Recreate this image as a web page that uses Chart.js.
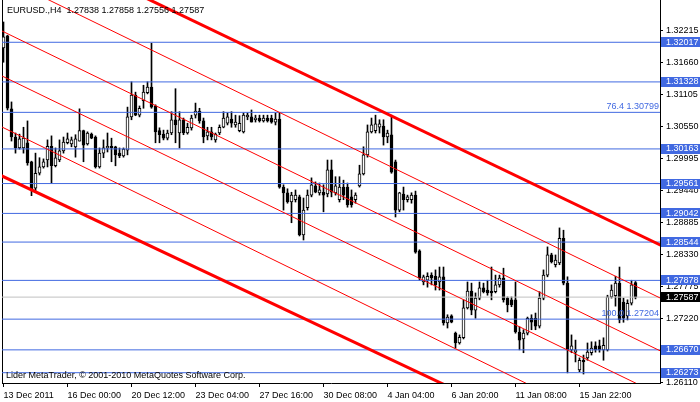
<!DOCTYPE html>
<html><head><meta charset="utf-8">
<script src="https://cdn.jsdelivr.net/npm/chart.js@4.4.1/dist/chart.umd.min.js"></script>
<style>html,body{margin:0;padding:0;background:#fff;overflow:hidden}canvas{display:block}</style>
</head><body>
<canvas id="c" width="700" height="402"></canvas>
<script>
const symbolName = 'EURUSD.,H4';
const opens = [1.3192,1.3213,1.3086,1.3037,1.3018,1.3018,1.3027,1.2994,1.2948,1.2974,
 1.2985,1.2997,1.3021,1.2987,1.2997,1.3013,1.3027,1.3025,1.3020,1.3030,
 1.3048,1.3025,1.3042,1.3037,1.2985,1.3009,1.3018,1.3021,1.3020,1.3009,
 1.3004,1.3014,1.3072,1.3110,1.3075,1.3100,1.3114,1.3124,1.3091,1.3048,
 1.3042,1.3035,1.3044,1.3067,1.3044,1.3067,1.3044,1.3053,1.3075,1.3082,
 1.3065,1.3039,1.3046,1.3032,1.3044,1.3054,1.3061,1.3068,1.3058,1.3048,
 1.3046,1.3072,1.3072,1.3067,1.3070,1.3065,1.3070,1.3070,1.3063,1.3068,
 1.2950,1.2940,1.2924,1.2928,1.2933,1.2867,1.2914,1.2936,1.2952,1.2940,
 1.2941,1.2938,1.2980,1.2940,1.2928,1.2950,1.2950,1.2933,1.2928,1.2952,
 1.2973,1.3006,1.3046,1.3048,1.3054,1.3056,1.3037,1.3041,1.2994,1.2910,
 1.2938,1.2928,1.2928,1.2936,1.2839,1.2785,1.2788,1.2797,1.2795,1.2785,
 1.2794,1.2714,1.2726,1.2696,1.2679,1.2688,1.2740,1.2769,1.2736,1.2757,
 1.2775,1.2771,1.2769,1.2768,1.2780,1.2792,1.2757,1.2754,1.2754,1.2698,
 1.2686,1.2696,1.2722,1.2722,1.2708,1.2757,1.2797,1.2832,1.2815,1.2818,
 1.2861,1.2783,1.2667,1.2663,1.2632,1.2649,1.2653,1.2662,1.2674,1.2674,
 1.2667,1.2667,1.2759,1.2761,1.2783,1.2750,1.2726,1.2748,1.27838];
const highs = [1.3237,1.3214,1.3098,1.3044,1.3042,1.3054,1.3065,1.2995,1.3009,1.3001,
 1.2999,1.3032,1.3039,1.3018,1.3032,1.3037,1.3044,1.3037,1.3041,1.3086,
 1.3049,1.3046,1.3044,1.3039,1.3018,1.3032,1.3044,1.3035,1.3021,1.3018,
 1.3018,1.3089,1.3133,1.3115,1.3091,1.3127,1.3133,1.3200,1.3093,1.3053,
 1.3049,1.3049,1.3081,1.3121,1.3081,1.3070,1.3061,1.3075,1.3096,1.3087,
 1.3070,1.3054,1.3054,1.3044,1.3058,1.3081,1.3079,1.3081,1.3075,1.3074,
 1.3079,1.3079,1.3084,1.3075,1.3075,1.3075,1.3075,1.3075,1.3079,1.3079,
 1.2954,1.2947,1.2941,1.2945,1.2936,1.2931,1.2945,1.2966,1.2959,1.2957,
 1.2954,1.2997,1.2997,1.2968,1.2968,1.2962,1.2957,1.2945,1.2940,1.2988,
 1.3020,1.3058,1.3070,1.3075,1.3067,1.3067,1.3049,1.3075,1.2997,1.2941,
 1.2950,1.2936,1.2940,1.2943,1.2841,1.2797,1.2801,1.2801,1.2806,1.2811,
 1.2811,1.2728,1.2728,1.2698,1.2693,1.2754,1.2785,1.2783,1.2766,1.2785,
 1.2783,1.2788,1.2811,1.2797,1.2797,1.2809,1.2759,1.2759,1.2785,1.2707,
 1.2702,1.2724,1.2728,1.2731,1.2768,1.2806,1.2846,1.2835,1.2832,1.2879,
 1.2875,1.2794,1.2693,1.2684,1.2653,1.2658,1.2679,1.2681,1.2681,1.2684,
 1.2688,1.2762,1.2780,1.2795,1.2811,1.2757,1.2754,1.2788,1.27858];
const lows = [1.3167,1.3084,1.3030,1.3009,1.3016,1.3009,1.2988,1.2935,1.2941,1.2971,
 1.2983,1.2985,1.2957,1.2985,1.2994,1.3009,1.3025,1.3020,1.3002,1.3030,
 1.2994,1.3023,1.3034,1.2983,1.2983,1.3001,1.3011,1.2994,1.2987,1.3001,
 1.3002,1.3006,1.3067,1.3074,1.3072,1.3087,1.3112,1.3087,1.3027,1.3027,
 1.3032,1.3032,1.3041,1.3027,1.3018,1.3041,1.3042,1.3049,1.3070,1.3061,
 1.3027,1.3032,1.3032,1.3028,1.3041,1.3053,1.3058,1.3054,1.3054,1.3046,
 1.3044,1.3067,1.3063,1.3063,1.3063,1.3063,1.3063,1.3061,1.3058,1.2948,
 1.2910,1.2922,1.2888,1.2924,1.2865,1.2858,1.2910,1.2933,1.2940,1.2936,
 1.2907,1.2933,1.2933,1.2936,1.2924,1.2928,1.2915,1.2915,1.2922,1.2950,
 1.2971,1.3002,1.3044,1.3044,1.3044,1.3023,1.3027,1.2974,1.2898,1.2907,
 1.2910,1.2924,1.2922,1.2835,1.2788,1.2780,1.2776,1.2780,1.2771,1.2771,
 1.2710,1.2705,1.2714,1.2670,1.2677,1.2686,1.2738,1.2728,1.2722,1.2754,
 1.2766,1.2762,1.2754,1.2766,1.2776,1.2750,1.2733,1.2742,1.2696,1.2667,
 1.2662,1.2693,1.2702,1.2702,1.2705,1.2754,1.2794,1.2818,1.2811,1.2815,
 1.2780,1.2627,1.2662,1.2646,1.2629,1.2625,1.2649,1.2658,1.2663,1.2663,
 1.2649,1.2665,1.2757,1.2743,1.2714,1.2715,1.2719,1.2745,1.27556];
const closes = [1.3211,1.3087,1.3037,1.3018,1.3034,1.3035,1.2992,1.2945,1.2974,1.2985,
 1.2994,1.3021,1.2987,1.3001,1.3013,1.3028,1.3034,1.3032,1.3034,1.3048,
 1.3023,1.3044,1.3035,1.2985,1.3009,1.3018,1.3021,1.3018,1.3006,1.3004,
 1.3016,1.3072,1.3110,1.3075,1.3087,1.3115,1.3124,1.3089,1.3046,1.3041,
 1.3035,1.3044,1.3067,1.3058,1.3067,1.3044,1.3054,1.3070,1.3082,1.3065,
 1.3037,1.3046,1.3037,1.3042,1.3054,1.3070,1.3072,1.3061,1.3063,1.3061,
 1.3075,1.3075,1.3063,1.3070,1.3065,1.3070,1.3065,1.3063,1.3068,1.2950,
 1.2940,1.2924,1.2936,1.2936,1.2867,1.2910,1.2936,1.2954,1.2941,1.2945,
 1.2936,1.2980,1.2941,1.2952,1.2950,1.2936,1.2919,1.2919,1.2936,1.2973,
 1.3006,1.3046,1.3058,1.3060,1.3060,1.3037,1.3044,1.2976,1.2910,1.2940,
 1.2928,1.2933,1.2936,1.2837,1.2792,1.2794,1.2795,1.2792,1.2780,1.2794,
 1.2714,1.2724,1.2715,1.2679,1.2689,1.2740,1.2769,1.2736,1.2757,1.2775,
 1.2768,1.2766,1.2766,1.2780,1.2792,1.2754,1.2745,1.2745,1.2698,1.2684,
 1.2696,1.2722,1.2715,1.2708,1.2757,1.2797,1.2832,1.2820,1.2823,1.2861,
 1.2783,1.2667,1.2674,1.2667,1.2649,1.2646,1.2663,1.2670,1.2667,1.2667,
 1.2675,1.2759,1.2771,1.2783,1.2719,1.2722,1.2748,1.2780,1.27587];

const timeTickIdx = [0,16,32,48,64,80,96,112,128,144];
const timeTickLabels = ['13 Dec 2011','16 Dec 00:00','20 Dec 12:00','23 Dec 04:00','27 Dec 16:00',
  '30 Dec 08:00','4 Jan 04:00','6 Jan 20:00','11 Jan 08:00','15 Jan 22:00'];
const priceTicks = [1.32215,1.31660,1.31105,1.30550,1.29995,1.29440,1.28885,1.28330,1.27775,1.27220,1.26665,1.26110];
const boxedLevels = [1.32017,1.31328,1.30163,1.29561,1.29042,1.28544,1.27878,1.26670,1.26273];
const fiboPrices = [1.30799,1.27204];
const fiboNames = ['76.4','100.0'];
const channelStart = [1.34007,1.33171,1.32234,1.31452,1.30565,1.29713];
const channelEnd   = [1.28434,1.27509,1.26591,1.25824,1.24887,1.24235];
const channelFromIdx = -1, channelToIdx = 166;
const lastPrice = closes[closes.length - 1];

const X_MIN = -0.375, X_MAX = 164.125;
const Y_MIN = 1.26094, Y_MAX = 1.32752;
const BLUE = '#4169e1';
const FONT = '"Liberation Sans", Arial, sans-serif';

Chart.defaults.font.family = FONT;
Chart.defaults.font.size = 9;
Chart.defaults.color = '#000';

const idx = opens.map((_, i) => i);
const hline = (p) => [{x: X_MIN, y: p}, {x: X_MAX, y: p}];

const datasets = [];
datasets.push({
  type: 'bar', label: 'wicks', yAxisID: 'y', xAxisID: 'x',
  data: idx.map(i => ({x: i, y: [lows[i], highs[i]]})),
  backgroundColor: '#000', borderWidth: 0, barThickness: 1, grouped: false, order: 30
});
datasets.push({
  type: 'bar', label: 'bodies', yAxisID: 'y', xAxisID: 'x',
  data: idx.map(i => ({x: i, y: [Math.min(opens[i], closes[i]), Math.max(opens[i], closes[i])]})),
  backgroundColor: idx.map(i => closes[i] >= opens[i] ? '#ffffff' : '#000000'),
  borderColor: '#000', borderWidth: 1, borderSkipped: false, barThickness: 3,
  minBarLength: 1, grouped: false, order: 20
});
datasets.push({
  type: 'line', label: 'bid', yAxisID: 'y', xAxisID: 'x', data: hline(lastPrice),
  borderColor: '#c0c0c0', borderWidth: 1, pointRadius: 0, clip: 0, order: 15
});
boxedLevels.concat(fiboPrices).forEach(p => datasets.push({
  type: 'line', label: 'lvl', yAxisID: 'y', xAxisID: 'x', data: hline(p),
  borderColor: BLUE, borderWidth: 1, pointRadius: 0, clip: 0, order: 10
}));
channelStart.forEach((s, k) => datasets.push({
  type: 'line', label: 'ch', yAxisID: 'y', xAxisID: 'x',
  data: [{x: channelFromIdx, y: s}, {x: channelToIdx, y: channelEnd[k]}],
  borderColor: '#ff0000', borderWidth: (k === 0 || k === channelStart.length - 1) ? 3 : 1,
  pointRadius: 0, clip: 0, order: 5
}));

const overlay = {
  id: 'overlay',
  afterDraw(chart) {
    const {ctx, chartArea: a, scales: {y}} = chart;
    const W = chart.width;
    ctx.save();
    ctx.font = '9px ' + FONT;
    ctx.textBaseline = 'middle';
    ctx.textAlign = 'left';
    const box = (p, bg) => {
      const py = y.getPixelForValue(p);
      const y0 = Math.round(py) - 5;
      ctx.fillStyle = bg;
      ctx.fillRect(a.right + 1, y0, W - a.right - 1, 10);
      ctx.fillStyle = '#fff';
      ctx.fillText(p.toFixed(5), a.right + 6, py);
    };
    boxedLevels.forEach(p => box(p, BLUE));
    box(lastPrice, '#000');
    ctx.textAlign = 'right';
    ctx.fillStyle = BLUE;
    fiboPrices.forEach((p, k) => {
      ctx.fillText(fiboNames[k] + ' ' + p.toFixed(5), a.right - 1, y.getPixelForValue(p) - 6);
    });
    ctx.textAlign = 'left';
    ctx.fillStyle = '#000';
    const n = opens.length - 1;
    ctx.fillText(symbolName + '  ' + [opens[n], highs[n], lows[n], closes[n]].map(v => v.toFixed(5)).join(' '), 7, 10.5);
    ctx.fillText('Lider MetaTrader, \u00a9 2001-2010 MetaQuotes Software Corp.', 6, a.bottom - 7);
    ctx.restore();
  }
};

const noPad = s => { s.paddingTop = 0; s.paddingBottom = 0; s.paddingLeft = 0; s.paddingRight = 0; };

new Chart(document.getElementById('c'), {
  type: 'bar',
  data: { datasets },
  options: {
    responsive: false, animation: false, devicePixelRatio: 1, events: [],
    layout: { padding: 0, autoPadding: false },
    plugins: { legend: { display: false }, tooltip: { enabled: false }, title: { display: false } },
    scales: {
      y: {
        type: 'linear', position: 'right', min: Y_MIN, max: Y_MAX, bounds: 'data', beginAtZero: false,
        afterBuildTicks: s => { s.ticks = priceTicks.map(v => ({value: v})); },
        afterFit: s => { s.width = 40; noPad(s); },
        ticks: { autoSkip: false, padding: 3, color: '#000', callback: v => Number(v).toFixed(5) },
        grid: { drawOnChartArea: false, drawTicks: true, tickLength: 3, color: '#000' },
        border: { display: true, color: '#000', width: 1 }
      },
      yl: {
        type: 'linear', position: 'left', min: Y_MIN, max: Y_MAX,
        afterFit: s => { s.width = 2; noPad(s); },
        ticks: { display: false },
        grid: { display: true, drawOnChartArea: false, drawTicks: false, color: '#000' },
        border: { display: true, color: '#000', width: 1 }
      },
      x: {
        type: 'linear', position: 'bottom', min: X_MIN, max: X_MAX, offset: false, bounds: 'data',
        afterBuildTicks: s => { s.ticks = timeTickIdx.map(v => ({value: v})); },
        afterFit: s => { s.height = 19; noPad(s); },
        ticks: { autoSkip: false, maxRotation: 0, minRotation: 0, align: 'start', padding: 3, color: '#000',
          callback: v => timeTickLabels[timeTickIdx.indexOf(v)] },
        grid: { drawOnChartArea: false, drawTicks: true, tickLength: 4, color: '#000', offset: false },
        border: { display: true, color: '#000', width: 1 }
      }
    }
  },
  plugins: [overlay]
});
</script>
</body></html>
